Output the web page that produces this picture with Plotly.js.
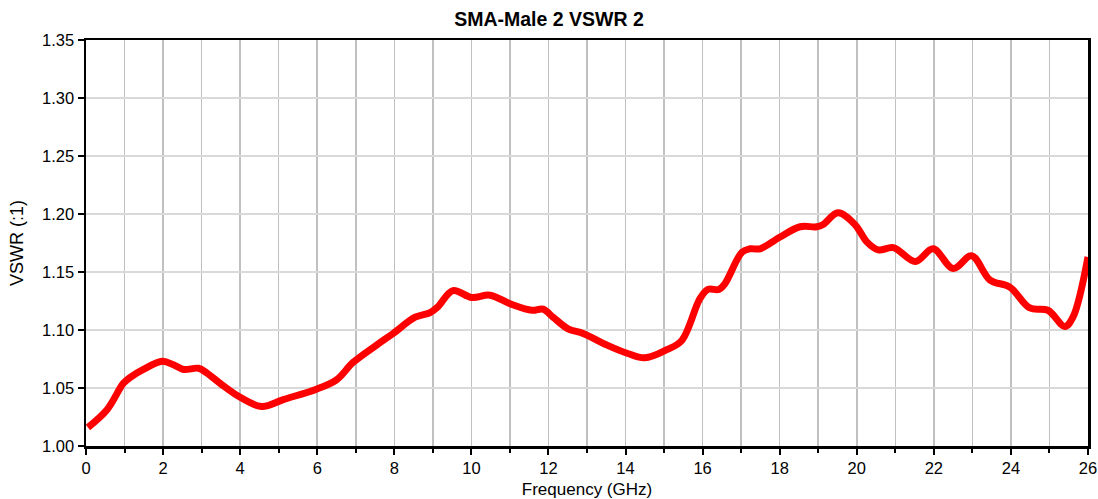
<!DOCTYPE html>
<html>
<head>
<meta charset="utf-8">
<script src="https://cdn.plot.ly/plotly-3.0.1.min.js"></script>
<style>html,body{margin:0;padding:0;background:#fff;}#chart{width:1098px;height:499px;}</style>
</head>
<body>
<div id="chart"></div>
<script>
const freqGHz = [0.05,0.54,0.97,1.14,1.49,1.98,2.27,2.53,2.92,3.13,3.48,4.0,4.56,5.12,5.98,6.5,6.93,7.54,7.97,8.54,8.93,9.13,9.52,10.01,10.48,11.05,11.57,11.86,12.12,12.51,12.9,13.52,14.04,14.5,15.07,15.46,15.93,16.14,16.42,16.58,17.02,17.23,17.49,18.0,18.53,18.96,19.13,19.51,19.95,20.26,20.56,20.95,21.52,21.98,22.5,22.98,23.46,23.97,24.49,24.96,25.4,25.61,26.0];
const vswr = [1.016,1.031,1.054,1.059,1.066,1.073,1.070,1.066,1.067,1.063,1.054,1.042,1.034,1.040,1.049,1.057,1.072,1.087,1.097,1.111,1.115,1.120,1.134,1.128,1.130,1.122,1.117,1.118,1.111,1.101,1.097,1.087,1.080,1.076,1.083,1.091,1.127,1.135,1.135,1.140,1.167,1.170,1.170,1.180,1.189,1.189,1.191,1.201,1.191,1.176,1.169,1.171,1.159,1.170,1.153,1.164,1.143,1.137,1.119,1.117,1.103,1.111,1.163];
const yTicks = [1.00,1.05,1.10,1.15,1.20,1.25,1.30,1.35];

const trace = {
  x: freqGHz, y: vswr, type: 'scatter', mode: 'lines',
  line: {color: '#ff0000', width: 7, shape: 'spline', smoothing: 1},
  hoverinfo: 'skip'
};
const font = {family: 'Liberation Sans, Arial, sans-serif', color: '#000'};
const layout = {
  width: 1098, height: 499,
  margin: {l: 86, r: 10, t: 40, b: 53},
  paper_bgcolor: '#fff', plot_bgcolor: '#fff',
  showlegend: false,
  font: Object.assign({size: 16}, font),
  title: {text: '<b>SMA-Male 2 VSWR 2</b>', font: Object.assign({size: 19.5}, font), x: 0.5, xanchor: 'center', y: 0.962, yanchor: 'middle'},
  xaxis: {
    range: [0, 26], dtick: 2, tick0: 0,
    showgrid: true, gridcolor: '#c0c0c0', gridwidth: 1.5,
    minor: {dtick: 1, showgrid: true, gridcolor: '#c0c0c0', gridwidth: 1.5, ticks: 'outside', ticklen: 4, tickcolor: '#000'},
    ticks: 'outside', ticklen: 6, tickwidth: 2, tickcolor: '#000',
    showline: true, linecolor: '#000', linewidth: 2.5, mirror: true,
    zeroline: false,
    tickfont: Object.assign({size: 16.5}, font),
    title: {text: 'Frequency (GHz)', font: Object.assign({size: 17}, font), standoff: 8}
  },
  yaxis: {
    range: [1.0, 1.35], tickvals: yTicks, tickformat: '.2f',
    showgrid: true, gridcolor: '#d9d9d9', gridwidth: 1.5,
    ticks: 'outside', ticklen: 6, tickwidth: 2, tickcolor: '#000',
    showline: true, linecolor: '#000', linewidth: 2.5, mirror: true,
    zeroline: false,
    tickfont: Object.assign({size: 16.5}, font),
    title: {text: 'VSWR (:1)', font: Object.assign({size: 18}, font), standoff: 14}
  }
};
Plotly.newPlot('chart', [trace], layout, {displayModeBar: false, staticPlot: true});
</script>
</body>
</html>
